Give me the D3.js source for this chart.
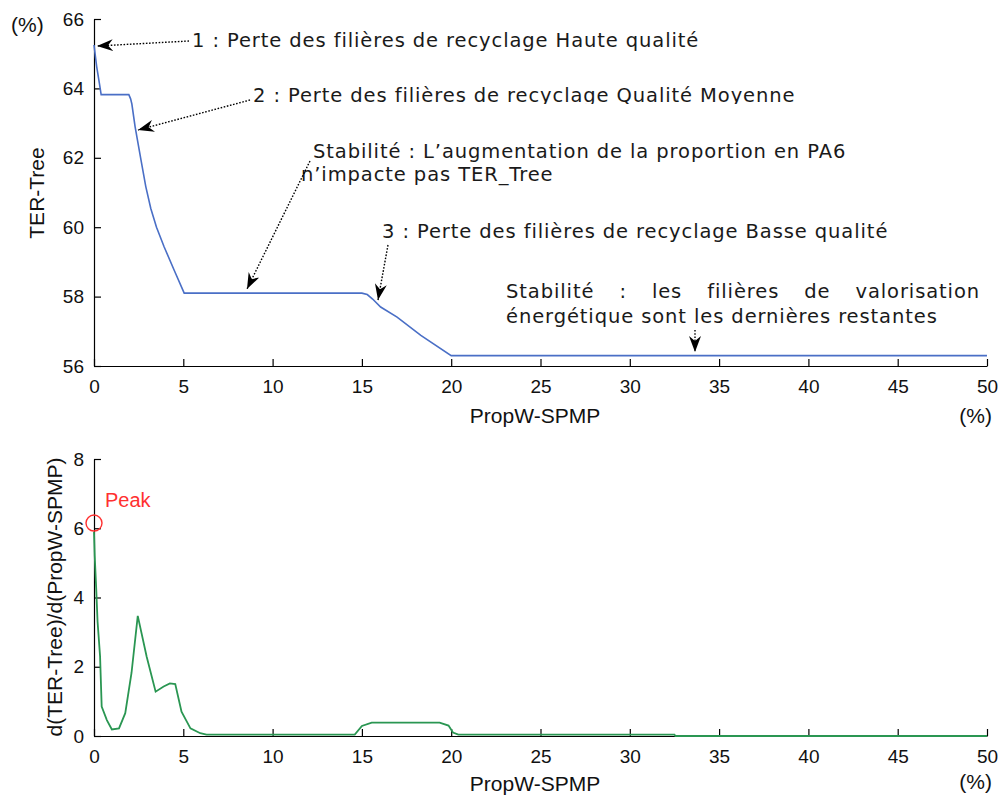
<!DOCTYPE html>
<html>
<head>
<meta charset="utf-8">
<script src="https://cdn.jsdelivr.net/npm/d3@7"></script>
<style>
  body { margin: 0; background: #fff; }
  svg { display: block; }
</style>
</head>
<body>
<svg id="chart" width="1002" height="796"></svg>
<script>
// TER-Tree as a function of the PropW-SPMP share (%)
const propW = [0, 0.15, 0.3, 0.4, 1.95, 2.05, 2.12, 2.3, 2.63, 2.9, 3.18, 3.5, 3.93, 4.49, 5.05, 15.0, 15.3, 15.6, 16.05, 16.97, 18.3, 20.0, 50];
const terTree = [65.25, 64.63, 64.15, 63.82, 63.82, 63.7, 63.55, 62.9, 61.94, 61.17, 60.54, 60.0, 59.43, 58.76, 58.1, 58.1, 58.06, 57.93, 57.7, 57.41, 56.88, 56.3, 56.3];

// Derivative d(TER-Tree)/d(PropW-SPMP)
const derivX = [0, 0.04, 0.12, 0.2, 0.34, 0.43, 0.72, 1.0, 1.4, 1.75, 2.1, 2.45, 2.95, 3.45, 3.9, 4.25, 4.55, 4.9, 5.4, 5.95, 6.3, 14.6, 15.0, 15.55, 19.35, 19.85, 20.1, 20.4, 32.5, 32.55, 50];
const derivY = [5.9, 5.2, 4.3, 3.3, 2.3, 0.85, 0.46, 0.19, 0.22, 0.66, 1.82, 3.47, 2.29, 1.28, 1.43, 1.52, 1.5, 0.7, 0.22, 0.08, 0.04, 0.04, 0.29, 0.385, 0.385, 0.3, 0.1, 0.04, 0.04, 0, 0];

const xTicks = [0, 5, 10, 15, 20, 25, 30, 35, 40, 45, 50];
const terTicks = [56, 58, 60, 62, 64, 66];
const derivTicks = [0, 2, 4, 6, 8];
const peakX = 0, peakY = 6.15;

const tickFont = '"Liberation Sans", Arial, sans-serif';
const noteFont = '"DejaVu Sans", Verdana, sans-serif';

const svg = d3.select('#chart');

// arrowhead for the dotted annotation pointers
const defs = svg.append('defs');
defs.append('marker')
  .attr('id', 'head')
  .attr('viewBox', '0 0 16 12')
  .attr('refX', 16).attr('refY', 6)
  .attr('markerWidth', 16).attr('markerHeight', 12)
  .attr('markerUnits', 'userSpaceOnUse')
  .attr('orient', 'auto')
  .append('path')
  .attr('d', 'M0,0 L16,6 L0,12 L5,6 Z')
  .attr('fill', '#000');

defs.append('clipPath').attr('id', 'cut2')
  .append('rect').attr('x', 0).attr('y', 0).attr('width', 1002).attr('height', 104);

const x = d3.scaleLinear().domain([0, 50]).range([94, 987]);
const yTop = d3.scaleLinear().domain([56, 66]).range([366, 19]);
const yBot = d3.scaleLinear().domain([0, 8]).range([736, 459]);

function styleAxis(g) {
  g.attr('font-family', tickFont).attr('font-size', 19);
  g.selectAll('.domain').attr('stroke', '#000').attr('stroke-width', 1.2);
  g.selectAll('.tick line').attr('stroke', '#000').attr('stroke-width', 1.2);
  g.selectAll('.tick text').attr('fill', '#111');
}

function axes(yScale, yTicks, baseY) {
  svg.append('g')
    .attr('transform', `translate(0,${baseY})`)
    .call(d3.axisBottom(x).tickValues(xTicks).tickSizeInner(-7).tickSizeOuter(0).tickPadding(14))
    .call(styleAxis);
  svg.append('g')
    .attr('transform', `translate(${x(0)},0)`)
    .call(d3.axisLeft(yScale).tickValues(yTicks).tickSizeInner(-7).tickSizeOuter(0).tickPadding(10))
    .call(styleAxis);
}

// ---------- top panel ----------
axes(yTop, terTicks, 366);

const topLine = d3.line().x(d => x(d[0])).y(d => yTop(d[1]));
svg.append('path')
  .datum(d3.zip(propW, terTree))
  .attr('d', topLine)
  .attr('fill', 'none')
  .attr('stroke', '#4a6fc6')
  .attr('stroke-width', 1.6);

svg.append('text').text('(%)').attr('x', 11).attr('y', 32)
  .attr('font-family', tickFont).attr('font-size', 21).attr('fill', '#111');
svg.append('text').text('TER-Tree')
  .attr('transform', 'translate(44,193) rotate(-90)')
  .attr('text-anchor', 'middle')
  .attr('font-family', tickFont).attr('font-size', 21).attr('fill', '#111');
svg.append('text').text('PropW-SPMP').attr('x', 535).attr('y', 423)
  .attr('text-anchor', 'middle')
  .attr('font-family', tickFont).attr('font-size', 21).attr('fill', '#111');
svg.append('text').text('(%)').attr('x', 992).attr('y', 423)
  .attr('text-anchor', 'end')
  .attr('font-family', tickFont).attr('font-size', 21).attr('fill', '#111');

// annotations
function note(str, tx, ty, clip) {
  const t = svg.append('text').text(str).attr('x', tx).attr('y', ty)
    .attr('font-family', noteFont).attr('font-size', 19.5)
    .attr('letter-spacing', 0.9)
    .attr('fill', '#1a1a1a');
  if (clip) t.attr('clip-path', 'url(#cut2)');
  return t;
}
function pointer(x1, y1, x2, y2) {
  svg.append('line')
    .attr('x1', x1).attr('y1', y1).attr('x2', x2).attr('y2', y2)
    .attr('stroke', '#000').attr('stroke-width', 1.4)
    .attr('stroke-dasharray', '1.6 1.6')
    .attr('marker-end', 'url(#head)');
}

note('1 : Perte des filières de recyclage Haute qualité', 192, 47);
pointer(189, 41, x(0) + 3, yTop(65.25) + 1);

note('2 : Perte des filières de recyclage Qualité Moyenne', 253, 102, true);
pointer(250, 100, 138, 130);

note('Stabilité : L\u2019augmentation de la proportion en PA6', 313, 158);
note('n\u2019impacte pas TER_Tree', 301, 181);
pointer(310, 161, 247, 289);

note('3 : Perte des filières de recyclage Basse qualité', 382, 238);
pointer(388, 245, 378, 300);

// justified two-line note
(function () {
  const words = ['Stabilité', ':', 'les', 'filières', 'de', 'valorisation'];
  const left = 506, right = 980, base = 298;
  const nodes = words.map(w => note(w, 0, base));
  const widths = nodes.map(n => n.node().getComputedTextLength());
  const gap = (right - left - d3.sum(widths)) / (words.length - 1);
  let cx = left;
  nodes.forEach((n, i) => { n.attr('x', cx); cx += widths[i] + gap; });
})();
note('énergétique sont les dernières restantes', 506, 323);
pointer(695, 330, 695, 352);

// ---------- bottom panel ----------
axes(yBot, derivTicks, 736);

const botLine = d3.line().x(d => x(d[0])).y(d => yBot(d[1]));
svg.append('path')
  .datum(d3.zip(derivX, derivY))
  .attr('d', botLine)
  .attr('fill', 'none')
  .attr('stroke', '#2a9652')
  .attr('stroke-width', 1.8);

svg.append('circle')
  .attr('cx', x(peakX)).attr('cy', yBot(peakY)).attr('r', 8)
  .attr('fill', 'none').attr('stroke', '#ff3030').attr('stroke-width', 1.4);
svg.append('text').text('Peak').attr('x', 105).attr('y', 507)
  .attr('font-family', tickFont).attr('font-size', 20).attr('fill', '#ff3030');

svg.append('text').text('d(TER-Tree)/d(PropW-SPMP)')
  .attr('transform', 'translate(62,597) rotate(-90)')
  .attr('text-anchor', 'middle')
  .attr('font-family', tickFont).attr('font-size', 21).attr('fill', '#111');
svg.append('text').text('PropW-SPMP').attr('x', 535).attr('y', 791)
  .attr('text-anchor', 'middle')
  .attr('font-family', tickFont).attr('font-size', 21).attr('fill', '#111');
svg.append('text').text('(%)').attr('x', 992).attr('y', 789)
  .attr('text-anchor', 'end')
  .attr('font-family', tickFont).attr('font-size', 21).attr('fill', '#111');
</script>
</body>
</html>
